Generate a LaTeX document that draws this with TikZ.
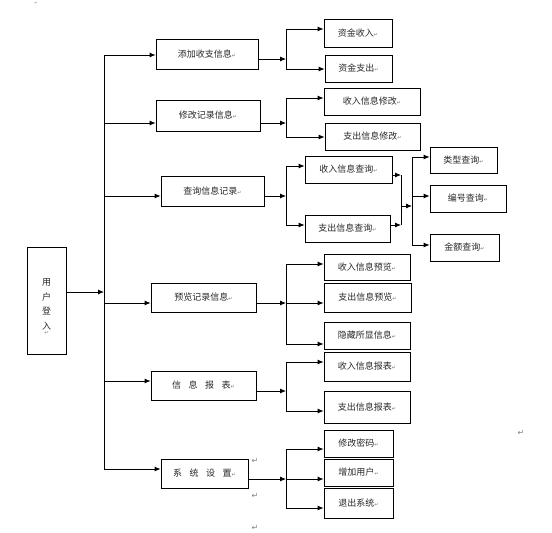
\documentclass[tikz,border=0pt]{standalone}
\usepackage{fontspec}
\setmainfont{Noto Sans CJK SC}
\newfontfamily\dvs{DejaVu Sans}
\usetikzlibrary{arrows.meta}
\newcommand\pmark{\textcolor{black!55}{\dvs\fontsize{5}{5}\selectfont ↵}}
\newcommand\wgap{\hspace{7.5pt}}
\begin{document}
\begin{tikzpicture}[x=1pt,y=-1pt,
  box/.style={draw, line width=0.8pt, inner sep=0pt, text=black!85, font=\fontsize{9}{10}\selectfont},
  ln/.style={line width=0.8pt},
  arr/.style={line width=0.8pt, -{Latex[length=6pt,width=5pt]}},
  mk/.style={inner sep=0pt, text=black!50, font=\dvs\fontsize{8}{8}\selectfont}]
\useasboundingbox (0,0) rectangle (552,533);
% root
\node[box, minimum width=39pt, minimum height=107pt] (root) at (46.5,300.5) {};
\node[inner sep=0pt, align=center, text=black!85, font=\fontsize{9}{14.5}\selectfont] (roottxt) at (46.5,307) {用\\户\\登\\入\\[-9pt]\pmark};
% level 1
\node[box, minimum width=102pt, minimum height=30pt] (b1) at (207,54) {添加收支信息\pmark};
\node[box, minimum width=104pt, minimum height=31pt] (b2) at (208,115.5) {修改记录信息\pmark};
\node[box, minimum width=103pt, minimum height=30pt] (b3) at (212.5,191) {查询信息记录\pmark};
\node[box, minimum width=105pt, minimum height=29pt] (b4) at (203.5,297.5) {预览记录信息\pmark};
\node[box, minimum width=105pt, minimum height=29pt] (b5) at (203.5,385.5) {信\wgap 息\wgap 报\wgap 表\pmark};
\node[box, minimum width=87pt, minimum height=29pt] (b6) at (204.5,473.5) {系\wgap 统\wgap 设\wgap 置\pmark};
% leaves
\node[box, minimum width=68pt, minimum height=28pt] (l11) at (358,33) {资金收入\pmark};
\node[box, minimum width=67pt, minimum height=27pt] (l12) at (358.5,68.5) {资金支出\pmark};
\node[box, minimum width=96pt, minimum height=27pt] (l21) at (372,101.5) {收入信息修改\pmark};
\node[box, minimum width=95pt, minimum height=27pt] (l22) at (372.5,136.5) {支出信息修改\pmark};
\node[box, minimum width=87pt, minimum height=27pt] (l31) at (348.5,169.5) {收入信息查询\pmark};
\node[box, minimum width=85pt, minimum height=27pt] (l32) at (347.5,228.5) {支出信息查询\pmark};
\node[box, minimum width=67pt, minimum height=26pt] (l33) at (463.5,160) {类型查询\pmark};
\node[box, minimum width=76pt, minimum height=27pt] (l34) at (468,198.5) {编号查询\pmark};
\node[box, minimum width=69pt, minimum height=27pt] (l35) at (464.5,247.5) {金额查询\pmark};
\node[box, minimum width=86pt, minimum height=26pt] (l41) at (367,267) {收入信息预览\pmark};
\node[box, minimum width=87pt, minimum height=29pt] (l42) at (367.5,297.5) {支出信息预览\pmark};
\node[box, minimum width=86pt, minimum height=27pt] (l43) at (367,335.5) {隐藏所显信息\pmark};
\node[box, minimum width=86pt, minimum height=29pt] (l51) at (367,366.5) {收入信息报表\pmark};
\node[box, minimum width=86pt, minimum height=32pt] (l52) at (367,407) {支出信息报表\pmark};
\node[box, minimum width=69pt, minimum height=27pt] (l61) at (358.5,443.5) {修改密码\pmark};
\node[box, minimum width=69pt, minimum height=27pt] (l62) at (358.5,472.5) {增加用户\pmark};
\node[box, minimum width=69pt, minimum height=30pt] (l63) at (358.5,503) {退出系统\pmark};
% main trunk
\coordinate (r) at (104,292);
\draw[arr] (root.east |- r) -- (r);
\coordinate (t1) at (104,55);
\coordinate (t2) at (104,123);
\coordinate (t3) at (104,196);
\coordinate (t4) at (104,303);
\coordinate (t5) at (104,381);
\coordinate (t6) at (104,469);
\draw[ln] (t1) -- (t6);
\foreach \i in {1,...,6} {\draw[arr] (t\i) -- (b\i.west |- t\i);}
% group 1
\coordinate (s1) at (286,59); \coordinate (s1a) at (286,29); \coordinate (s1b) at (286,69);
\draw[arr] (b1.east |- s1) -- (s1);
\draw[ln] (s1a) -- (s1b);
\draw[arr] (s1a) -- (l11.west |- s1a);
\draw[arr] (s1b) -- (l12.west |- s1b);
% group 2
\coordinate (s2) at (286,123); \coordinate (s2a) at (286,98); \coordinate (s2b) at (286,137);
\draw[arr] (b2.east |- s2) -- (s2);
\draw[ln] (s2a) -- (s2b);
\draw[arr] (s2a) -- (l21.west |- s2a);
\draw[arr] (s2b) -- (l22.west |- s2b);
% group 3
\coordinate (s3) at (286,196); \coordinate (s3a) at (286,166); \coordinate (s3b) at (286,225);
\draw[arr] (b3.east |- s3) -- (s3);
\draw[ln] (s3a) -- (s3b);
\draw[arr] (s3a) -- (l31.west |- s3a);
\draw[arr] (s3b) -- (l32.west |- s3b);
\coordinate (m1) at (401,175); \coordinate (m2) at (401,225); \coordinate (m) at (401,206);
\draw[arr] (l31.east |- m1) -- (m1);
\draw[arr] (l32.east |- m2) -- (m2);
\draw[ln] (m1) -- (m2);
\coordinate (q) at (412,206); \coordinate (qa) at (412,157); \coordinate (qb) at (412,196); \coordinate (qc) at (412,245);
\draw[arr] (m) -- (q);
\draw[ln] (qa) -- (qc);
\draw[arr] (qa) -- (l33.west |- qa);
\draw[arr] (qb) -- (l34.west |- qb);
\draw[arr] (qc) -- (l35.west |- qc);
% group 4
\coordinate (s4) at (286,303); \coordinate (s4a) at (286,264); \coordinate (s4c) at (286,344);
\draw[arr] (b4.east |- s4) -- (s4);
\draw[ln] (s4a) -- (s4c);
\draw[arr] (s4a) -- (l41.west |- s4a);
\draw[arr] (s4) -- (l42.west |- s4);
\draw[arr] (s4c) -- (l43.west |- s4c);
% group 5
\coordinate (s5) at (286,391); \coordinate (s5a) at (286,362); \coordinate (s5b) at (286,411);
\draw[arr] (b5.east |- s5) -- (s5);
\draw[ln] (s5a) -- (s5b);
\draw[arr] (s5a) -- (l51.west |- s5a);
\draw[arr] (s5b) -- (l52.west |- s5b);
% group 6
\coordinate (s6) at (286,479); \coordinate (s6a) at (286,449); \coordinate (s6c) at (286,508);
\draw[arr] (b6.east |- s6) -- (s6);
\draw[ln] (s6a) -- (s6c);
\draw[arr] (s6a) -- (l61.west |- s6a);
\draw[arr] (s6) -- (l62.west |- s6);
\draw[arr] (s6c) -- (l63.west |- s6c);
% paragraph marks
\node[mk, font=\dvs\fontsize{4}{4}\selectfont] (k0) at (36,3) {↵};
\node[mk] (k1) at (521,433) {↵};
\node[mk] (k2) at (255,461) {↵};
\node[mk] (k3) at (255,496) {↵};
\node[mk] (k4) at (255,528) {↵};
\end{tikzpicture}
\end{document}
